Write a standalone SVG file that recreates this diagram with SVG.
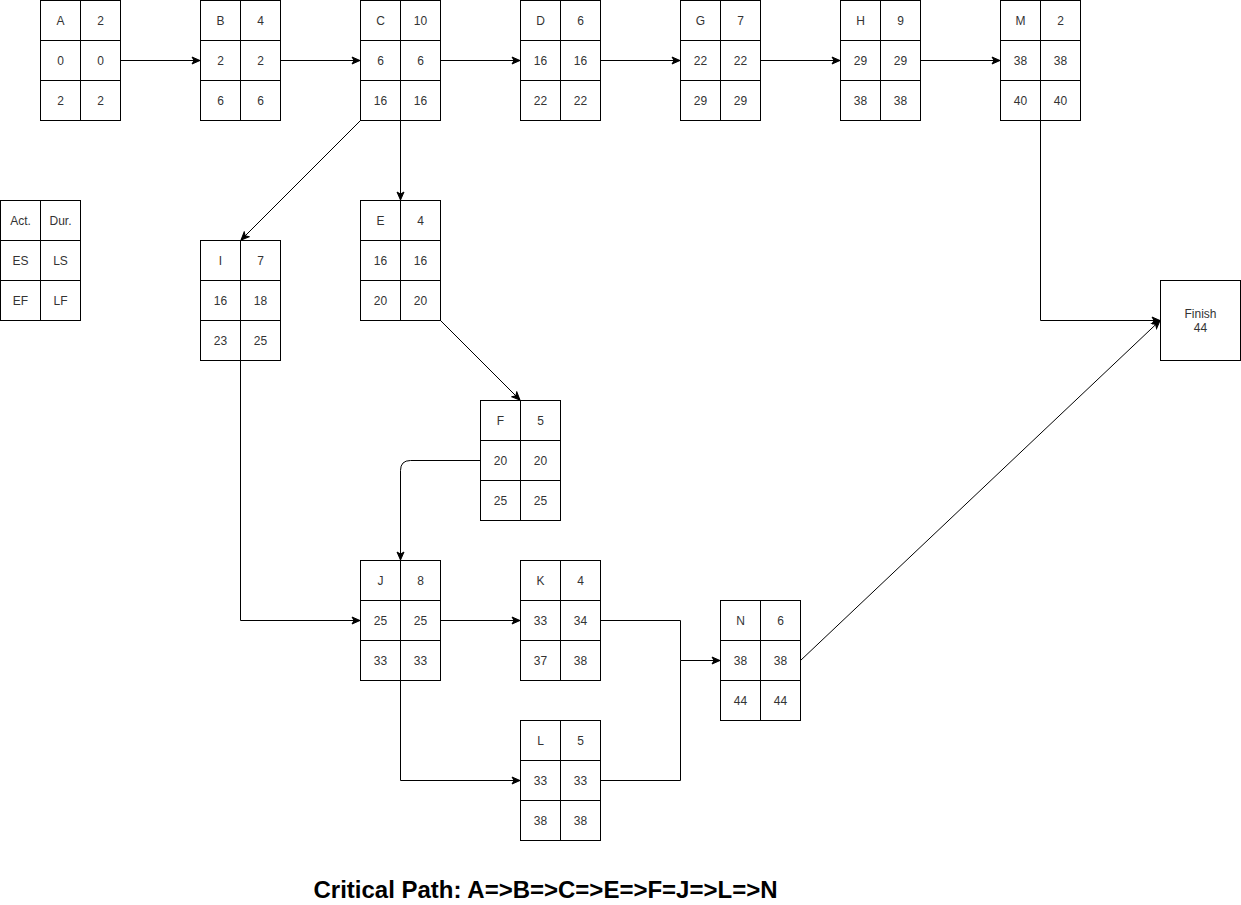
<svg xmlns="http://www.w3.org/2000/svg" width="1241" height="905" viewBox="0 0 1241 905">
<defs>
<style>
.c{fill:#fff;stroke:#000;stroke-width:1}
.t{font-family:"Liberation Sans",Arial,sans-serif;font-size:12px;fill:#333;text-anchor:middle}
.e{fill:none;stroke:#000;stroke-width:1}
.title{font-family:"Liberation Sans",Arial,sans-serif;font-size:24px;font-weight:bold;fill:#000;text-anchor:middle}
</style>
<marker id="arr" markerUnits="userSpaceOnUse" markerWidth="10" markerHeight="10" viewBox="0 0 10 10" refX="9" refY="5" orient="auto">
<path d="M1,1.5 L9,5 L1,8.5 L3,5 Z" fill="#000" stroke="#000" stroke-width="1"/>
</marker>
<g id="grid">
<rect class="c" x="0.5" y="0.5" width="40" height="40"/>
<rect class="c" x="40.5" y="0.5" width="40" height="40"/>
<rect class="c" x="0.5" y="40.5" width="40" height="40"/>
<rect class="c" x="40.5" y="40.5" width="40" height="40"/>
<rect class="c" x="0.5" y="80.5" width="40" height="40"/>
<rect class="c" x="40.5" y="80.5" width="40" height="40"/>
</g>
</defs>
<rect width="1241" height="905" fill="#fff"/>

<g id="connectors">
<path class="e" d="M120.5,60.5 H200" marker-end="url(#arr)"/>
<path class="e" d="M280.5,60.5 H360" marker-end="url(#arr)"/>
<path class="e" d="M440.5,60.5 H520" marker-end="url(#arr)"/>
<path class="e" d="M600.5,60.5 H680" marker-end="url(#arr)"/>
<path class="e" d="M760.5,60.5 H840" marker-end="url(#arr)"/>
<path class="e" d="M920.5,60.5 H1000" marker-end="url(#arr)"/>
<path class="e" d="M360.5,120.5 L241,240" marker-end="url(#arr)"/>
<path class="e" d="M400.5,120.5 V200" marker-end="url(#arr)"/>
<path class="e" d="M440.5,320.5 L520,400" marker-end="url(#arr)"/>
<path class="e" d="M480.5,460.5 H410.5 Q400.5,460.5 400.5,470.5 V560" marker-end="url(#arr)"/>
<path class="e" d="M240.5,360.5 V620.5 H360" marker-end="url(#arr)"/>
<path class="e" d="M440.5,620.5 H520" marker-end="url(#arr)"/>
<path class="e" d="M400.5,680.5 V780.5 H520" marker-end="url(#arr)"/>
<path class="e" d="M600.5,620.5 H680.5 V660.5 H720" marker-end="url(#arr)"/>
<path class="e" d="M600.5,780.5 H680.5 V660.5"/>
<path class="e" d="M1040.5,120.5 V320.5 H1160" marker-end="url(#arr)"/>
<path class="e" d="M800.5,660.5 L1160,320.5" marker-end="url(#arr)"/>
</g>

<g id="A" transform="translate(40,0)"><use href="#grid"/>
<text class="t" x="20.5" y="25">A</text><text class="t" x="60.5" y="25">2</text>
<text class="t" x="20.5" y="65">0</text><text class="t" x="60.5" y="65">0</text>
<text class="t" x="20.5" y="105">2</text><text class="t" x="60.5" y="105">2</text></g>

<g id="B" transform="translate(200,0)"><use href="#grid"/>
<text class="t" x="20.5" y="25">B</text><text class="t" x="60.5" y="25">4</text>
<text class="t" x="20.5" y="65">2</text><text class="t" x="60.5" y="65">2</text>
<text class="t" x="20.5" y="105">6</text><text class="t" x="60.5" y="105">6</text></g>

<g id="C" transform="translate(360,0)"><use href="#grid"/>
<text class="t" x="20.5" y="25">C</text><text class="t" x="60.5" y="25">10</text>
<text class="t" x="20.5" y="65">6</text><text class="t" x="60.5" y="65">6</text>
<text class="t" x="20.5" y="105">16</text><text class="t" x="60.5" y="105">16</text></g>

<g id="D" transform="translate(520,0)"><use href="#grid"/>
<text class="t" x="20.5" y="25">D</text><text class="t" x="60.5" y="25">6</text>
<text class="t" x="20.5" y="65">16</text><text class="t" x="60.5" y="65">16</text>
<text class="t" x="20.5" y="105">22</text><text class="t" x="60.5" y="105">22</text></g>

<g id="G" transform="translate(680,0)"><use href="#grid"/>
<text class="t" x="20.5" y="25">G</text><text class="t" x="60.5" y="25">7</text>
<text class="t" x="20.5" y="65">22</text><text class="t" x="60.5" y="65">22</text>
<text class="t" x="20.5" y="105">29</text><text class="t" x="60.5" y="105">29</text></g>

<g id="H" transform="translate(840,0)"><use href="#grid"/>
<text class="t" x="20.5" y="25">H</text><text class="t" x="60.5" y="25">9</text>
<text class="t" x="20.5" y="65">29</text><text class="t" x="60.5" y="65">29</text>
<text class="t" x="20.5" y="105">38</text><text class="t" x="60.5" y="105">38</text></g>

<g id="M" transform="translate(1000,0)"><use href="#grid"/>
<text class="t" x="20.5" y="25">M</text><text class="t" x="60.5" y="25">2</text>
<text class="t" x="20.5" y="65">38</text><text class="t" x="60.5" y="65">38</text>
<text class="t" x="20.5" y="105">40</text><text class="t" x="60.5" y="105">40</text></g>

<g id="legend" transform="translate(0,200)"><use href="#grid"/>
<text class="t" x="20.5" y="25">Act.</text><text class="t" x="60.5" y="25">Dur.</text>
<text class="t" x="20.5" y="65">ES</text><text class="t" x="60.5" y="65">LS</text>
<text class="t" x="20.5" y="105">EF</text><text class="t" x="60.5" y="105">LF</text></g>

<g id="I" transform="translate(200,240)"><use href="#grid"/>
<text class="t" x="20.5" y="25">I</text><text class="t" x="60.5" y="25">7</text>
<text class="t" x="20.5" y="65">16</text><text class="t" x="60.5" y="65">18</text>
<text class="t" x="20.5" y="105">23</text><text class="t" x="60.5" y="105">25</text></g>

<g id="E" transform="translate(360,200)"><use href="#grid"/>
<text class="t" x="20.5" y="25">E</text><text class="t" x="60.5" y="25">4</text>
<text class="t" x="20.5" y="65">16</text><text class="t" x="60.5" y="65">16</text>
<text class="t" x="20.5" y="105">20</text><text class="t" x="60.5" y="105">20</text></g>

<g id="F" transform="translate(480,400)"><use href="#grid"/>
<text class="t" x="20.5" y="25">F</text><text class="t" x="60.5" y="25">5</text>
<text class="t" x="20.5" y="65">20</text><text class="t" x="60.5" y="65">20</text>
<text class="t" x="20.5" y="105">25</text><text class="t" x="60.5" y="105">25</text></g>

<g id="J" transform="translate(360,560)"><use href="#grid"/>
<text class="t" x="20.5" y="25">J</text><text class="t" x="60.5" y="25">8</text>
<text class="t" x="20.5" y="65">25</text><text class="t" x="60.5" y="65">25</text>
<text class="t" x="20.5" y="105">33</text><text class="t" x="60.5" y="105">33</text></g>

<g id="K" transform="translate(520,560)"><use href="#grid"/>
<text class="t" x="20.5" y="25">K</text><text class="t" x="60.5" y="25">4</text>
<text class="t" x="20.5" y="65">33</text><text class="t" x="60.5" y="65">34</text>
<text class="t" x="20.5" y="105">37</text><text class="t" x="60.5" y="105">38</text></g>

<g id="L" transform="translate(520,720)"><use href="#grid"/>
<text class="t" x="20.5" y="25">L</text><text class="t" x="60.5" y="25">5</text>
<text class="t" x="20.5" y="65">33</text><text class="t" x="60.5" y="65">33</text>
<text class="t" x="20.5" y="105">38</text><text class="t" x="60.5" y="105">38</text></g>

<g id="N" transform="translate(720,600)"><use href="#grid"/>
<text class="t" x="20.5" y="25">N</text><text class="t" x="60.5" y="25">6</text>
<text class="t" x="20.5" y="65">38</text><text class="t" x="60.5" y="65">38</text>
<text class="t" x="20.5" y="105">44</text><text class="t" x="60.5" y="105">44</text></g>

<g id="Finish">
<rect class="c" x="1160.5" y="280.5" width="80" height="80"/>
<text class="t" x="1200.5" y="318">Finish</text>
<text class="t" x="1200.5" y="332">44</text>
</g>

<g id="title"><text class="title" x="545.5" y="898">Critical Path: A=&gt;B=&gt;C=&gt;E=&gt;F=J=&gt;L=&gt;N</text></g>
</svg>
